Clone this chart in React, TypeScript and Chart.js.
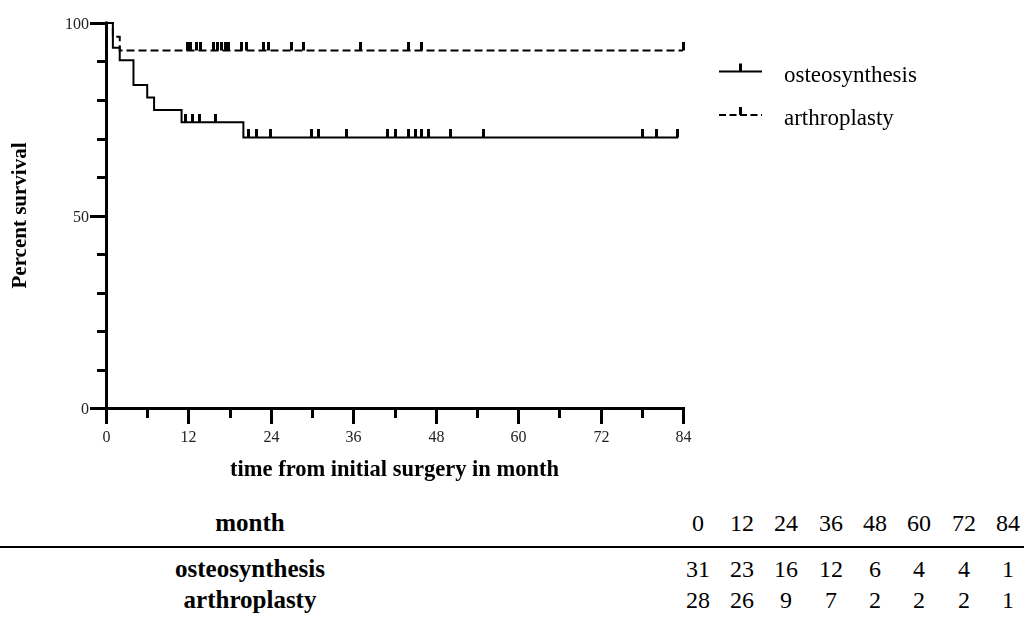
import React, { useEffect, useRef } from 'react';
import { Chart, registerables } from 'chart.js';

Chart.register(...registerables);

// Kaplan-Meier step data (time in months, percent survival)
const osteoTimes = [0, 1, 2, 4, 6, 7, 11, 20, 83.3];
const osteoSurvival = [100, 93.55, 90.32, 83.87, 80.65, 77.42, 74.19, 70.29, 70.29];
const osteoCensored = [11.6, 12.6, 13.6, 16, 20.8, 21.9, 24, 29.9, 31, 35, 41, 42.1, 44, 45, 46, 47, 50.1, 55, 78.1, 80.2, 83.2];

const arthroTimes = [0, 1, 2, 84];
const arthroSurvival = [100, 96.43, 92.86, 92.86];
const arthroCensored = [11.8, 12.3, 13.2, 13.8, 15.7, 16.3, 16.8, 17.4, 17.9, 19.7, 20.5, 22.9, 23.6, 27.0, 28.7, 37.0, 44.0, 46.0, 84];

const xTickValues = [0, 6, 12, 18, 24, 30, 36, 42, 48, 54, 60, 66, 72, 78, 84];
const xTickLabels = ['0', '', '12', '', '24', '', '36', '', '48', '', '60', '', '72', '', '84'];
const yTickValues = [0, 10, 20, 30, 40, 50, 60, 70, 80, 90, 100];
const yTickLabels = ['0', '', '', '', '', '50', '', '', '', '', '100'];

const seriesNames = ['osteosynthesis', 'arthroplasty'];
const tableMonths = [0, 12, 24, 36, 48, 60, 72, 84];
const atRiskOsteo = [31, 23, 16, 12, 6, 4, 4, 1];
const atRiskArthro = [28, 26, 9, 7, 2, 2, 2, 1];

const FONT = '"Liberation Serif", "Times New Roman", serif';

function survivalAt(times: number[], surv: number[], t: number) {
  let v = surv[0];
  for (let i = 0; i < times.length; i++) if (times[i] <= t) v = surv[i];
  return v;
}

function makeTickImage() {
  const c = document.createElement('canvas');
  c.width = 3;
  c.height = 16;
  const g = c.getContext('2d')!;
  g.fillStyle = '#000';
  g.fillRect(0, 0, 3, 8);
  return c;
}

const axesPlugin = {
  id: 'kmAxes',
  afterDatasetsDraw(chart: any) {
    const { ctx } = chart;
    const xs = chart.scales.x;
    const ys = chart.scales.y;
    const x0 = Math.round(xs.getPixelForValue(0));
    const x1 = Math.round(xs.getPixelForValue(84));
    const y0 = Math.round(ys.getPixelForValue(0));
    const y1 = Math.round(ys.getPixelForValue(100));
    ctx.save();
    ctx.strokeStyle = '#000';
    ctx.fillStyle = '#000';
    ctx.lineWidth = 3;
    ctx.lineCap = 'butt';
    // axis lines
    ctx.beginPath();
    ctx.moveTo(x0 + 0.5, y1 - 1.5);
    ctx.lineTo(x0 + 0.5, y0);
    ctx.moveTo(x0, y0 + 0.5);
    ctx.lineTo(x1 + 2, y0 + 0.5);
    ctx.stroke();
    // y ticks
    ctx.font = `16px ${FONT}`;
    ctx.textAlign = 'right';
    ctx.textBaseline = 'middle';
    yTickValues.forEach((v, i) => {
      const py = Math.round(ys.getPixelForValue(v)) + 0.5;
      const major = yTickLabels[i] !== '';
      ctx.beginPath();
      ctx.moveTo(x0 - (major ? 16 : 9), py);
      ctx.lineTo(x0, py);
      ctx.stroke();
      if (major) {
        ctx.fillStyle = '#222';
        ctx.fillText(yTickLabels[i], x0 - 17, py + 1);
      }
    });
    // x ticks
    ctx.textAlign = 'center';
    xTickValues.forEach((v, i) => {
      const px = Math.round(xs.getPixelForValue(v)) + 0.5;
      const major = xTickLabels[i] !== '';
      ctx.beginPath();
      ctx.moveTo(px, y0);
      ctx.lineTo(px, y0 + (major ? 16 : 10));
      ctx.stroke();
      if (major) {
        ctx.fillStyle = '#222';
        ctx.fillText(xTickLabels[i], px, y0 + 30);
      }
    });
    // axis titles
    ctx.fillStyle = '#000';
    ctx.font = `bold 22.5px ${FONT}`;
    ctx.textAlign = 'center';
    ctx.textBaseline = 'middle';
    ctx.fillText('time from initial surgery in month', (x0 + x1) / 2, y0 + 62);
    ctx.font = `bold 21px ${FONT}`;
    ctx.save();
    ctx.translate(21, (y0 + y1) / 2);
    ctx.rotate(-Math.PI / 2);
    ctx.fillText('Percent survival', 0, 0);
    ctx.restore();

    // legend
    const lx0 = 719, lx1 = 762, tx = 784;
    const rows = [
      { y: 71.5, base: 82, dash: [] as number[] },
      { y: 115, base: 125, dash: [7, 3.5] },
    ];
    rows.forEach((r, i) => {
      ctx.lineWidth = 2;
      ctx.setLineDash(r.dash);
      ctx.beginPath();
      ctx.moveTo(lx0, r.y);
      ctx.lineTo(lx1, r.y);
      ctx.stroke();
      ctx.setLineDash([]);
      ctx.fillRect(739, r.y - 8, 3, 8);
      ctx.font = `23px ${FONT}`;
      ctx.textAlign = 'left';
      ctx.textBaseline = 'alphabetic';
      ctx.fillStyle = '#000';
      ctx.fillText(seriesNames[i], tx, r.base);
    });
    ctx.restore();
  },
};

function KMChart() {
  const ref = useRef<HTMLCanvasElement | null>(null);
  useEffect(() => {
    if (!ref.current) return;
    const tick = makeTickImage();
    const osteoLine = osteoTimes.map((t, i) => ({ x: t, y: osteoSurvival[i] }));
    const arthroLine = arthroTimes.map((t, i) => ({ x: t, y: arthroSurvival[i] }));
    const osteoCens = osteoCensored.map((t) => ({ x: t, y: survivalAt(osteoTimes, osteoSurvival, t) }));
    const arthroCens = arthroCensored.map((t) => ({ x: t, y: survivalAt(arthroTimes, arthroSurvival, t) }));
    const chart = new Chart(ref.current, {
      type: 'line',
      data: {
        datasets: [
          {
            label: seriesNames[0],
            data: osteoLine,
            stepped: 'before',
            borderColor: '#000',
            borderWidth: 2,
            pointRadius: 0,
            fill: false,
            clip: false,
          },
          {
            label: seriesNames[1],
            data: arthroLine,
            stepped: 'before',
            borderColor: '#000',
            borderWidth: 2,
            borderDash: [8, 4],
            pointRadius: 0,
            fill: false,
            clip: false,
          },
          {
            label: seriesNames[0] + ' censored',
            data: osteoCens,
            showLine: false,
            pointStyle: tick as any,
            pointRadius: 3,
            clip: false,
          },
          {
            label: seriesNames[1] + ' censored',
            data: arthroCens,
            showLine: false,
            pointStyle: tick as any,
            pointRadius: 3,
            clip: false,
          },
        ] as any,
      },
      options: {
        animation: false,
        responsive: false,
        devicePixelRatio: 1,
        layout: { padding: { left: 106, top: 23, right: 341, bottom: 82 } },
        plugins: { legend: { display: false }, tooltip: { enabled: false } },
        scales: {
          x: { type: 'linear', min: 0, max: 84, display: false },
          y: { type: 'linear', min: 0, max: 100, display: false },
        },
      },
      plugins: [axesPlugin],
    });
    return () => chart.destroy();
  }, []);
  return <canvas ref={ref} width={1024} height={490} style={{ position: 'absolute', left: 0, top: 0 }} />;
}

const colX = [698, 742, 786, 831, 875, 919, 964, 1008];

function Cell({ cx, cy, text, bold, size }: { cx: number; cy: number; text: string; bold?: boolean; size: number }) {
  return (
    <div
      style={{
        position: 'absolute',
        left: cx - 120,
        width: 240,
        top: cy - 15,
        height: 30,
        lineHeight: '30px',
        textAlign: 'center',
        fontFamily: FONT,
        fontWeight: bold ? 'bold' : 'normal',
        fontSize: size,
        color: '#000',
        whiteSpace: 'nowrap',
      }}
    >
      {text}
    </div>
  );
}

export default function App() {
  useEffect(() => {
    document.body.style.margin = '0';
  }, []);
  const rows = [
    { label: 'month', values: tableMonths, cy: 523 },
    { label: seriesNames[0], values: atRiskOsteo, cy: 569 },
    { label: seriesNames[1], values: atRiskArthro, cy: 600 },
  ];
  return (
    <div style={{ position: 'relative', width: 1024, height: 617, background: '#fff', overflow: 'hidden' }}>
      <KMChart />
      <div style={{ position: 'absolute', left: 0, top: 546, width: 1024, height: 2, background: '#000' }} />
      {rows.map((r) => (
        <React.Fragment key={r.label}>
          <Cell cx={250} cy={r.cy} text={r.label} bold size={25} />
          {r.values.map((v, i) => (
            <Cell key={i} cx={colX[i]} cy={r.cy} text={String(v)} size={24} />
          ))}
        </React.Fragment>
      ))}
    </div>
  );
}
